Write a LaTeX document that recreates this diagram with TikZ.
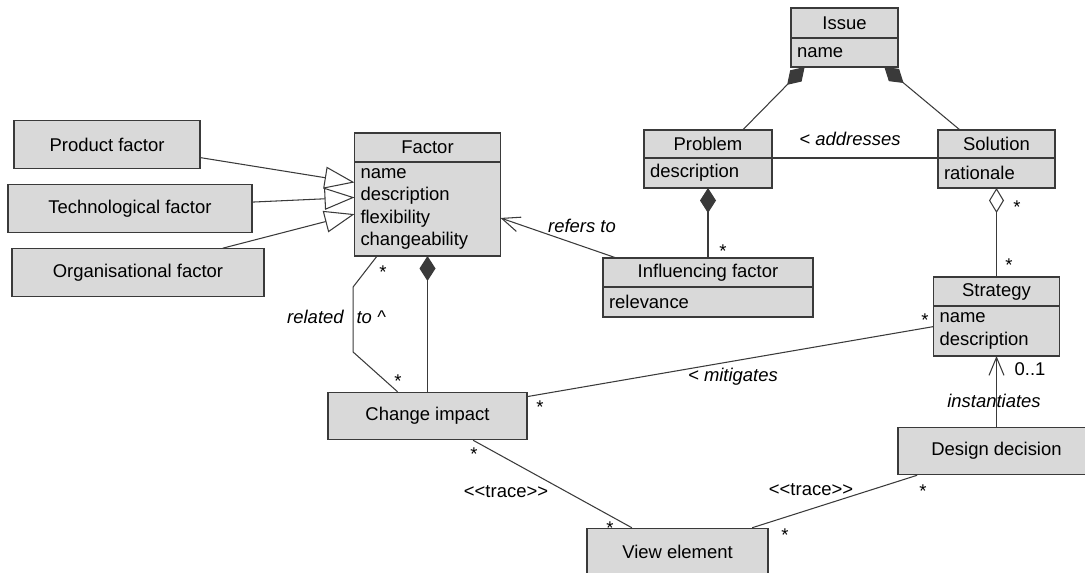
\documentclass[tikz,border=0pt]{standalone}
\usepackage{fontspec}
\setmainfont{Liberation Sans}
\usetikzlibrary{arrows.meta,positioning}
\definecolor{umlfill}{RGB}{217,217,217}
\definecolor{umlline}{RGB}{58,58,58}

\begin{document}
\begin{tikzpicture}[
  font=\fontsize{10.5}{12.8}\selectfont,
  cls/.style={draw=umlline,fill=umlfill,line width=0.6pt,inner sep=0pt,outer sep=0pt,minimum height=0.58cm},
  att/.style={draw=umlline,fill=umlfill,line width=0.6pt,inner xsep=0.12cm,inner ysep=0pt,outer sep=0pt,align=left,anchor=north},
  box/.style={draw=umlline,fill=umlfill,line width=0.6pt,inner sep=0pt,minimum height=0.95cm},
  conn/.style={umlline,line width=0.6pt},
  gen/.style={conn,-{Triangle[open,length=0.6cm,width=0.44cm]}},
  nav/.style={conn,-{Straight Barb[length=0.36cm,width=0.3cm]}},
  comp/.style={conn,{Diamond[length=0.5cm,width=0.32cm]}-},
  aggr/.style={conn,{Diamond[open,length=0.5cm,width=0.3cm]}-},
  lbl/.style={font=\fontsize{10.5}{12.8}\selectfont\itshape,inner sep=0pt},
  mul/.style={inner sep=0pt}]
  \useasboundingbox (0,0) rectangle (21.70,-11.46);
  % factor kinds
  \node[box,minimum width=3.72cm] (prod) at (2.14,-2.89) {Product factor};
  \node[box,minimum width=4.88cm] (tech) at (2.60,-4.17) {Technological factor};
  \node[box,minimum width=5.04cm] (org) at (2.76,-5.45) {Organisational factor};
  % classes with attributes
  \node[cls,minimum width=2.92cm] (factor) at (8.55,-2.95) {Factor};
  \node[att,text width=2.68cm,minimum height=1.88cm] (factor-a) at (factor.south) {name\\description\\flexibility\\changeability};
  \node[cls,minimum width=2.14cm,minimum height=0.60cm] (issue) at (16.89,-0.46) {Issue};
  \node[att,text width=1.90cm,minimum height=0.58cm] (issue-a) at (issue.south) {name};
  \node[cls,minimum width=2.56cm,minimum height=0.56cm] (problem) at (14.16,-2.88) {Problem};
  \node[att,text width=2.32cm,minimum height=0.60cm] (problem-a) at (problem.south) {description};
  \node[cls,minimum width=2.34cm,minimum height=0.56cm] (solution) at (19.93,-2.88) {Solution};
  \node[att,text width=2.10cm,minimum height=0.60cm] (solution-a) at (solution.south) {rationale};
  \node[cls,minimum width=4.20cm] (infl) at (14.16,-5.45) {Influencing factor};
  \node[att,text width=3.96cm,minimum height=0.60cm] (infl-a) at (infl.south) {relevance};
  \node[cls,minimum width=2.52cm] (strategy) at (19.93,-5.83) {Strategy};
  \node[att,text width=2.28cm,minimum height=1.00cm] (strategy-a) at (strategy.south) {name\\description};
  % plain boxes
  \node[box,minimum width=3.98cm] (impact) at (8.55,-8.32) {Change impact};
  \node[box,minimum width=3.62cm] (view) at (13.55,-11.04) {View element};
  \node[box,minimum width=3.94cm] (decision) at (19.93,-9.02) {Design decision};
  % generalisations
  \draw[gen] (prod.-8) -- (factor-a.160);
  \draw[gen] (tech.3) -- (factor-a.171);
  \draw[gen] (org.16) -- (factor-a.184);
  % compositions and aggregation
  \draw[comp] (issue-a.200) -- (problem.22);
  \draw[comp] (issue-a.-20) -- (solution.159);
  \draw[comp] (problem-a.south) -- (infl.north);
  \draw[comp] (factor-a.south) -- (impact.north);
  \draw[aggr] (solution-a.south) -- (strategy.north);
  % associations
  \draw[conn] (problem.south east) -- (solution.south west);
  \draw[nav] (infl.171) -- (factor-a.-7);
  \draw[conn] (factor-a.223) -- ++(-0.48,-0.62) -- ++(0,-1.30) -- (impact.141);
  \draw[conn] (impact.11) -- (strategy-a.176);
  \draw[conn] (impact.-28) -- (view.152);
  \draw[conn] (view.18) -- (decision.197);
  \draw[nav] (decision.north) -- (strategy-a.south);
  % labels
  \node[lbl] (l-refers) at (11.64,-4.52) {refers to};
  \node[lbl] (l-addr) at (17.00,-2.78) {< addresses};
  \node[lbl] (l-rel) at (6.73,-6.34) {related\hspace{0.7em}to \textasciicircum};
  \node[lbl] (l-mit) at (14.66,-7.54) {< mitigates};
  \node[lbl] (l-inst) at (19.88,-8.02) {instantiates};
  \node[mul] (l-01) at (20.60,-7.38) {0..1};
  \node[mul] (l-tr1) at (10.12,-9.84) {<{}<trace>{}>};
  \node[mul] (l-tr2) at (16.22,-9.80) {<{}<trace>{}>};
  % multiplicities
  \node[mul] (m1) at (7.66,-5.44) {*};
  \node[mul] (m2) at (7.96,-7.62) {*};
  \node[mul] (m3) at (10.80,-8.14) {*};
  \node[mul] (m4) at (18.50,-6.40) {*};
  \node[mul] (m5) at (14.46,-5.03) {*};
  \node[mul] (m6) at (20.34,-4.14) {*};
  \node[mul] (m7) at (20.18,-5.30) {*};
  \node[mul] (m8) at (9.48,-9.08) {*};
  \node[mul] (m9) at (12.20,-10.56) {*};
  \node[mul] (m10) at (15.70,-10.70) {*};
  \node[mul] (m11) at (18.46,-9.82) {*};
\end{tikzpicture}
\end{document}
